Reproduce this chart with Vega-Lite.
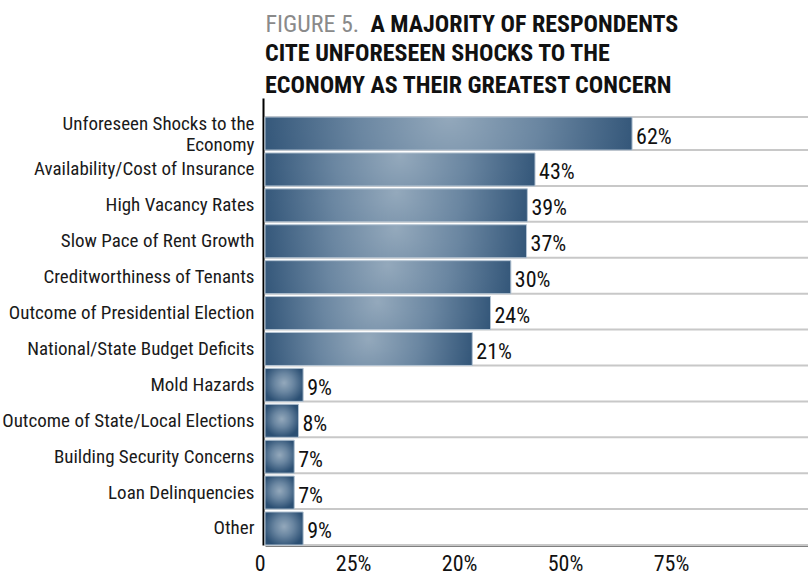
{
  "$schema": "https://vega.github.io/schema/vega-lite/v6.json",
  "width": 543,
  "height": 447,
  "autosize": {"type": "none"},
  "padding": {"left": 265, "top": 98, "right": 0, "bottom": 36},
  "background": "white",
  "title": {
    "text": ["CITE UNFORESEEN SHOCKS TO THE", "ECONOMY AS THEIR GREATEST CONCERN"],
    "anchor": "start",
    "frame": "group",
    "font": "Roboto Condensed, DejaVu Sans Condensed, sans-serif",
    "fontSize": 24,
    "fontWeight": "bold",
    "color": "#111111",
    "lineHeight": 32,
    "offset": -2,
    "dy": 84
  },
  "data": {
    "values": [
      {"concern": "Unforeseen Shocks to the Economy", "pct": 0.62, "bar": 86.6},
      {"concern": "Availability/Cost of Insurance", "pct": 0.43, "bar": 63.7},
      {"concern": "High Vacancy Rates", "pct": 0.39, "bar": 61.9},
      {"concern": "Slow Pace of Rent Growth", "pct": 0.37, "bar": 61.7},
      {"concern": "Creditworthiness of Tenants", "pct": 0.30, "bar": 58.0},
      {"concern": "Outcome of Presidential Election", "pct": 0.24, "bar": 53.2},
      {"concern": "National/State Budget Deficits", "pct": 0.21, "bar": 48.9},
      {"concern": "Mold Hazards", "pct": 0.09, "bar": 9.0},
      {"concern": "Outcome of State/Local Elections", "pct": 0.08, "bar": 7.9},
      {"concern": "Building Security Concerns", "pct": 0.07, "bar": 6.9},
      {"concern": "Loan Delinquencies", "pct": 0.07, "bar": 6.9},
      {"concern": "Other", "pct": 0.09, "bar": 9.0}
    ]
  },
  "layer": [
    {
      "mark": {"type": "rule", "color": "#c8c8c8", "strokeWidth": 2},
      "encoding": {
        "y": {
          "field": "concern",
          "type": "nominal",
          "sort": null,
          "bandPosition": 1,
          "scale": {"paddingInner": 0.08, "paddingOuter": 0.265, "align": 1},
          "axis": {
            "title": "FIGURE 5.",
            "titleAngle": 0,
            "titleX": 2,
            "titleY": -67,
            "titleAlign": "left",
            "titleBaseline": "alphabetic",
            "titleFont": "Roboto Condensed, DejaVu Sans Condensed, sans-serif",
            "titleFontSize": 24,
            "titleFontWeight": "normal",
            "titleColor": "#8a8a8a",
            "domain": true,
            "domainColor": "#000000",
            "domainWidth": 2,
            "offset": 2,
            "ticks": false,
            "grid": false,
            "labelPadding": 9,
            "labelFont": "Roboto Condensed, DejaVu Sans Condensed, sans-serif",
            "labelFontSize": 19,
            "labelColor": "#1a1a1a",
            "labelLimit": 400,
            "labelLineHeight": 21,
            "labelOffset": {"condition": {"test": "datum.value == 'Unforeseen Shocks to the Economy'", "value": -10}, "value": 0},
            "labelExpr": "datum.value == 'Unforeseen Shocks to the Economy' ? ['Unforeseen Shocks to the', 'Economy'] : datum.value"
          }
        }
      }
    },
    {
      "transform": [{"filter": "datum.concern == 'Unforeseen Shocks to the Economy'"}],
      "mark": {"type": "rule", "color": "#c8c8c8", "strokeWidth": 2},
      "encoding": {
        "y": {"field": "concern", "type": "nominal", "sort": null, "bandPosition": 0}
      }
    },
    {
      "mark": {
        "type": "bar",
        "stroke": "#b4c4d3",
        "strokeWidth": 1,
        "fill": {
          "gradient": "radial",
          "x1": 0.5, "y1": 0.45, "r1": 0,
          "x2": 0.5, "y2": 0.45, "r2": 0.55,
          "stops": [
            {"offset": 0, "color": "#94a9bc"},
            {"offset": 0.45, "color": "#6a86a1"},
            {"offset": 1, "color": "#2b4f73"}
          ]
        }
      },
      "encoding": {
        "y": {"field": "concern", "type": "nominal", "sort": null},
        "x": {
          "field": "bar",
          "type": "quantitative",
          "scale": {"domain": [0, 128.1], "nice": false, "zero": true},
          "axis": {
            "title": "A MAJORITY OF RESPONDENTS",
            "titleX": 105,
            "titleY": -514,
            "titleAlign": "left",
            "titleBaseline": "alphabetic",
            "titleFont": "Roboto Condensed, DejaVu Sans Condensed, sans-serif",
            "titleFontSize": 24,
            "titleFontWeight": "bold",
            "titleColor": "#111111",
            "values": [0, 25, 50, 75, 100],
            "labelExpr": "datum.value == 0 ? '0' : datum.value == 25 ? '25%' : datum.value == 50 ? '20%' : datum.value == 75 ? '50%' : datum.value == 100 ? '75%' : ''",
            "labelAlign": "right",
            "labelBound": false,
            "labelFlush": false,
            "labelOverlap": false,
            "labelPadding": 8,
            "labelFont": "Roboto Condensed, DejaVu Sans Condensed, sans-serif",
            "labelFontSize": 22,
            "labelColor": "#111111",
            "ticks": false,
            "grid": false,
            "domain": true,
            "domainColor": "#000000",
            "domainWidth": 2
          }
        }
      }
    },
    {
      "mark": {
        "type": "text",
        "align": "left",
        "baseline": "middle",
        "dx": 4,
        "dy": 3,
        "font": "Roboto Condensed, DejaVu Sans Condensed, sans-serif",
        "fontSize": 22,
        "color": "#111111"
      },
      "encoding": {
        "y": {"field": "concern", "type": "nominal", "sort": null},
        "x": {"field": "bar", "type": "quantitative"},
        "text": {"field": "pct", "type": "quantitative", "format": ".0%"}
      }
    }
  ],
  "config": {
    "view": {"stroke": null}
  }
}
